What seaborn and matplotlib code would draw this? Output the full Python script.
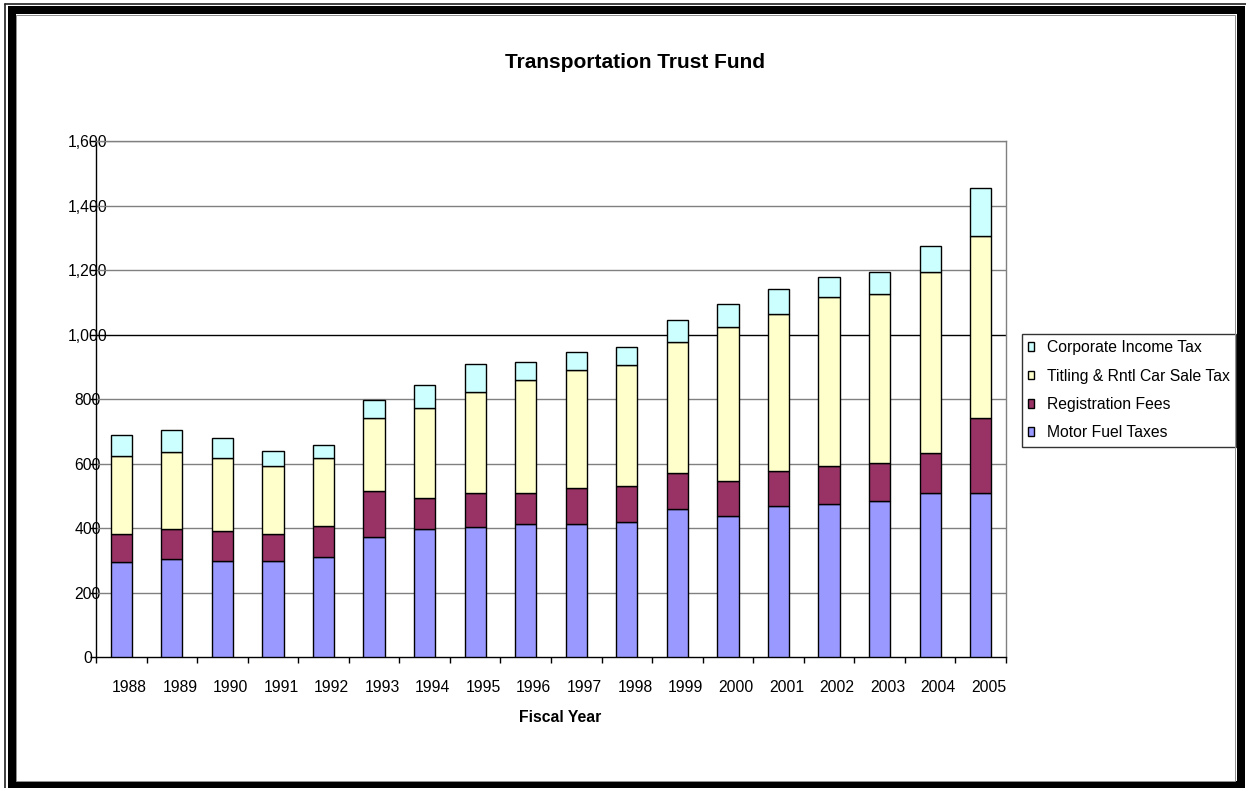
import matplotlib
matplotlib.use("Agg")
import matplotlib.pyplot as plt
import matplotlib.transforms as mtransforms
from matplotlib.patches import Rectangle, Patch
from matplotlib.lines import Line2D
import seaborn as sns
import pandas as pd
import numpy as np

years = ["1988", "1989", "1990", "1991", "1992", "1993", "1994", "1995", "1996",
         "1997", "1998", "1999", "2000", "2001", "2002", "2003", "2004", "2005"]
motor_fuel = [296, 305, 297, 297, 312, 374, 397, 405, 413, 413, 421, 459, 438, 469, 476, 484, 508, 508]
registration = [86, 94, 95, 85, 95, 143, 96, 104, 96, 111, 111, 112, 108, 108, 118, 118, 124, 235]
titling = [243, 236, 226, 212, 211, 226, 281, 312, 351, 367, 375, 406, 478, 487, 524, 523, 563, 562]
corporate = [64, 70, 63, 47, 39, 55, 70, 87, 55, 55, 56, 69, 70, 78, 62, 70, 79, 149]

series_names = ["Motor Fuel Taxes", "Registration Fees", "Titling & Rntl Car Sale Tax", "Corporate Income Tax"]
series_colors = ["#9999FF", "#993366", "#FFFFCC", "#CCFFFF"]
yticks = [0, 200, 400, 600, 800, 1000, 1200, 1400, 1600]

sns.set_style("white")
plt.rcParams["font.family"] = ["Liberation Sans", "DejaVu Sans"]
plt.rcParams["text.color"] = "black"
plt.rcParams["axes.labelcolor"] = "black"
plt.rcParams["xtick.color"] = "black"
plt.rcParams["ytick.color"] = "black"

W, H = 1246, 788
fig = plt.figure(figsize=(W / 100, H / 100), dpi=100)
fig.patch.set_facecolor("white")
ax = fig.add_axes([96 / W, 1 - 657.3 / H, (1006 - 96) / W, (657.3 - 141.2) / H])

df = pd.DataFrame({"year": years, "Motor Fuel Taxes": motor_fuel, "Registration Fees": registration,
                   "Titling & Rntl Car Sale Tax": titling, "Corporate Income Tax": corporate})

bottom = np.zeros(len(years))
for name, col in zip(series_names, series_colors):
    sns.barplot(data=df, x="year", y=name, order=years, bottom=bottom, color=col,
                saturation=1, width=0.42, edgecolor="black", linewidth=1.0,
                errorbar=None, ax=ax, zorder=3)
    bottom = bottom + df[name].values

ax.set_xlim(-0.5, len(years) - 0.5)
ax.set_ylim(0, 1600)
ax.set_yticks(yticks)
ax.set_yticklabels([f"{v:,}" for v in yticks], fontsize=11.3, ha="center", color="black")
ax.set_xlabel("")
ax.set_ylabel("")

# gridlines
for v in yticks[1:]:
    ax.axhline(v, color="black" if v == 1000 else "#808080", lw=1.0, zorder=1)

for s in ["top", "right"]:
    ax.spines[s].set_color("#808080")
    ax.spines[s].set_linewidth(1.0)
for s in ["left", "bottom"]:
    ax.spines[s].set_color("black")
    ax.spines[s].set_linewidth(1.0)

ax.tick_params(axis="y", direction="out", length=4, width=1, color="black", pad=2, left=True)
ax.set_xticks(range(len(years)))
ax.set_xticklabels(years, fontsize=11.3, color="black")
ax.tick_params(axis="x", which="major", length=0, pad=16)
ax.set_xticks(np.arange(-0.5, len(years), 1.0), minor=True)
ax.tick_params(axis="x", which="minor", direction="out", length=4, width=1, color="black", bottom=True)
off = mtransforms.ScaledTranslation(8 / 100, 0, fig.dpi_scale_trans)
for lab in ax.get_xticklabels():
    lab.set_transform(lab.get_transform() + off)

if ax.get_legend() is not None:
    ax.get_legend().remove()

# Title and axis label
fig.text(635 / W, 1 - 62 / H, "Transportation Trust Fund", ha="center", va="center",
         fontsize=15, fontweight="bold", color="black")
fig.text(560 / W, 1 - 718 / H, "Fiscal Year", ha="center", va="center",
         fontsize=11.3, fontweight="bold", color="black")

# Legend
handles = [Patch(facecolor=c, edgecolor="black", linewidth=1.0) for c in series_colors]
leg = fig.legend(handles[::-1], series_names[::-1], loc="upper left",
                 bbox_to_anchor=(1022 / W, 1 - 334 / H), borderaxespad=0,
                 fontsize=11.3, frameon=True, fancybox=False, shadow=False,
                 handlelength=0.35, handleheight=0.45, handletextpad=0.85,
                 labelspacing=0.85, borderpad=0.4)
leg.get_frame().set_edgecolor("black")
leg.get_frame().set_linewidth(1.0)
for t in leg.get_texts():
    t.set_color("black")
leg.set_zorder(5)

# Outer frame
def px_rect(x0, y0, x1, y1, lw_px, color, z):
    r = Rectangle((x0 / W, 1 - y1 / H), (x1 - x0) / W, (y1 - y0) / H,
                  transform=fig.transFigure, fill=False, edgecolor=color,
                  linewidth=lw_px * 0.72, zorder=z)
    fig.patches.append(r)

px_rect(12, 10, 1241, 785, 8, "black", 20)
px_rect(15.5, 14.5, 1234.5, 781, 1, "#909090", 21)
fig.lines.append(Line2D([4.5 / W, 4.5 / W], [0, 1 - 3.5 / H], transform=fig.transFigure,
                        color="#202020", lw=1.2, zorder=20))
fig.lines.append(Line2D([4.5 / W, 1], [1 - 3.5 / H, 1 - 3.5 / H], transform=fig.transFigure,
                        color="#202020", lw=1.2, zorder=20))

fig.savefig("out.png", dpi=100, facecolor="white")
